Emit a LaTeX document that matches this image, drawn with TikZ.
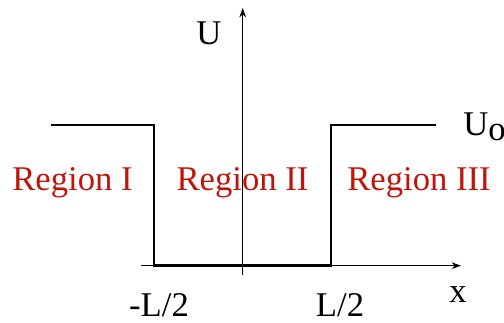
\documentclass[tikz,border=0pt]{standalone}
\usepackage{fontspec}
\setmainfont{Liberation Serif}
\usetikzlibrary{arrows.meta}
\definecolor{regred}{RGB}{190,22,10}
\tikzset{
  well/.style={line width=2.2pt,line join=miter},
  axis/.style={line width=0.6pt},
  regionlbl/.style={font=\fontsize{26}{30}\selectfont,text=regred,inner sep=0pt},
  axlbl/.style={font=\fontsize{26}{30}\selectfont,inner sep=0pt},
}
\begin{document}
\begin{tikzpicture}[x=0.75pt,y=0.75pt]
	\useasboundingbox (0,0) rectangle (504,323);
	% axes
	\coordinate (xl) at (141,57.3);
	\coordinate (xr) at (461,57.3);
	\coordinate (yb) at (242.7,48);
	\coordinate (yt) at (242.7,315);
	\draw[axis,-{Stealth[length=7pt,width=5pt]}] (xl) -- (xr);
	\draw[axis,-{Stealth[length=7pt,width=5pt]}] (yb) -- (yt);
	% well corners
	\coordinate (w0) at (51,198);
	\coordinate (w1) at (154,198);
	\coordinate (w2) at (154,57.3);
	\coordinate (w3) at (331,57.3);
	\coordinate (w4) at (331,198);
	\coordinate (w5) at (436,198);
	\draw[well] (w0) -- (w1) -- (w2) -- (w3) -- (w4) -- (w5);
	% labels
	\node[axlbl] (ulbl) at (209,290) {U};
	\node[axlbl,anchor=west] (u0) at (463,196) {U\raisebox{-0.3ex}{o}};
	\node[axlbl] (xlbl) at (458,28) {x};
	\node[axlbl] (mlh) at (159,18) {-L/2};
	\node[axlbl] (plh) at (340,18) {L/2};
	\node[regionlbl] (r1) at (72.5,140) {Region I};
	\node[regionlbl] (r2) at (242.5,140) {Region II};
	\node[regionlbl] (r3) at (419,140) {Region III};
\end{tikzpicture}
\end{document}
